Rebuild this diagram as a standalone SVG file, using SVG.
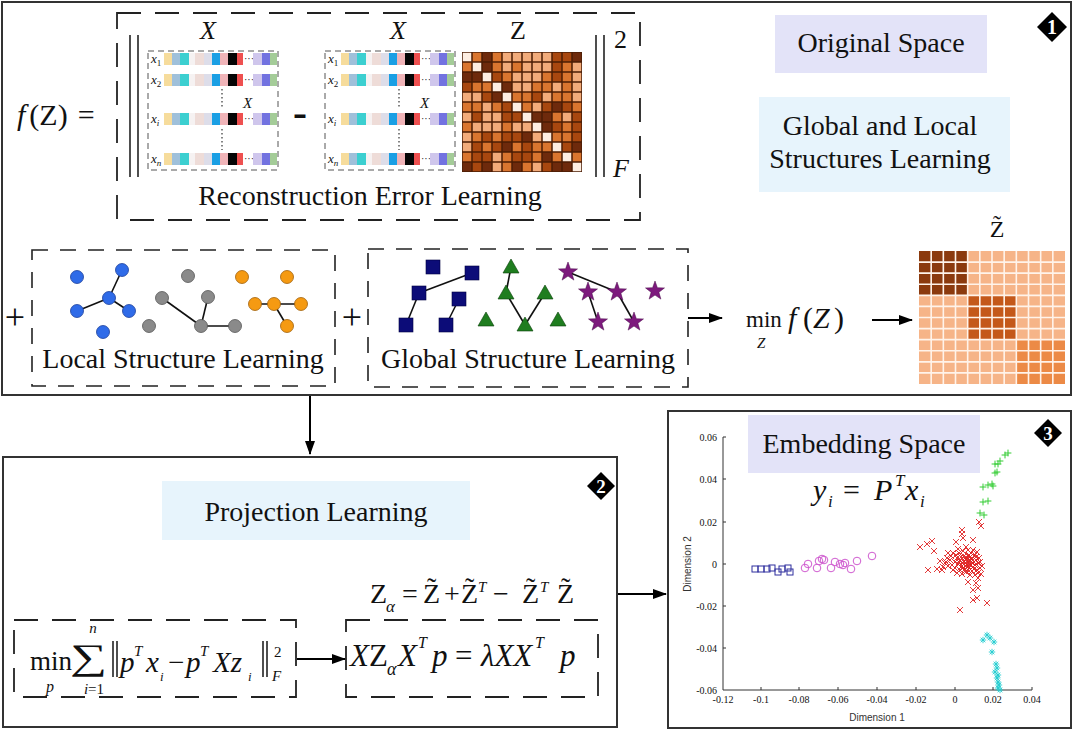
<svg xmlns="http://www.w3.org/2000/svg" width="1074" height="730" viewBox="0 0 1074 730">
<style>
text{font-family:"Liberation Serif","Times New Roman","DejaVu Serif",serif;fill:#111}
.it{font-style:italic}
.lbl{font-size:28px}
.box{fill:none;stroke:#333;stroke-width:2}
.dashA{fill:none;stroke:#222;stroke-width:1.8;stroke-dasharray:24 14}
.dashB{fill:none;stroke:#222;stroke-width:1.6;stroke-dasharray:16 12}
.dashM{fill:none;stroke:#555;stroke-width:1;stroke-dasharray:6 4}
.conn{stroke:#000;stroke-width:2;fill:none}
.edge{stroke:#111;stroke-width:1.6}
.bar{stroke:#222;stroke-width:1.6}
.tick{font-family:"Liberation Sans",Arial,sans-serif;font-size:10px;fill:#333}
.ax{stroke:#333;stroke-width:1;fill:none}
.za{fill:#6e2a0c}.zb{fill:#a8470f}.zc{fill:#d9752f}.zd{fill:#f2ab7a}.ze{fill:#fdeee2}
</style>
<defs>
<marker id="ah" viewBox="0 0 14 10" refX="13" refY="5" markerWidth="14" markerHeight="10" markerUnits="userSpaceOnUse" orient="auto"><path d="M0,0L14,5L0,10z" fill="#000"/></marker>
<rect id="za" class="za" width="8.5" height="8.5"/>
<rect id="zb" class="zb" width="8.5" height="8.5"/>
<rect id="zc" class="zc" width="8.5" height="8.5"/>
<rect id="zd" class="zd" width="8.5" height="8.5"/>
<rect id="ze" class="ze" width="8.5" height="8.5"/>
<path id="mx" d="M-3,-3L3,3M-3,3L3,-3" stroke="#e02424" stroke-width="0.9" fill="none"/>
<path id="mp" d="M-3.4,0H3.4M0,-3.4V3.4" stroke="#33cc33" stroke-width="1" fill="none"/>
<path id="mst" d="M-3.2,0H3.2M0,-3.2V3.2M-2.3,-2.3L2.3,2.3M-2.3,2.3L2.3,-2.3" stroke="#22cdd0" stroke-width="0.9" fill="none"/>
<circle id="mo" r="3.8" stroke="#d05cd0" stroke-width="1" fill="none"/>
<rect id="msq" x="-3" y="-3" width="6" height="6" stroke="#2e2e9e" stroke-width="1" fill="none"/>
<g id="xrow">
<rect x="16" y="0" width="8" height="12" fill="#f6dc9c"/>
<rect x="24" y="0" width="8" height="12" fill="#9fc0da"/>
<rect x="32" y="0" width="9" height="12" fill="#3ccfd0"/>
<rect x="41" y="0" width="6" height="12" fill="#f6f2f2"/>
<rect x="47" y="0" width="9" height="12" fill="#eedcd8"/>
<rect x="56" y="0" width="8" height="12" fill="#dddde9"/>
<rect x="64" y="0" width="8" height="12" fill="#1a9fe4"/>
<rect x="72" y="0" width="8" height="12" fill="#f0b4b8"/>
<rect x="80" y="0" width="9" height="12" fill="#050505"/>
<rect x="89" y="0" width="6" height="12" fill="#ee5050"/>
<text x="96" y="9" font-size="10" fill="#444">···</text>
<rect x="105" y="0" width="9" height="12" fill="#cfc6ec"/>
<rect x="114" y="0" width="8" height="12" fill="#7272e0"/>
<rect x="122" y="0" width="7" height="12" fill="#a4cc98"/>
</g>
<g id="xmat">
<rect class="dashM" x="0" y="51" width="130" height="119"/>
<use href="#xrow" y="53"/>
<use href="#xrow" y="74"/>
<use href="#xrow" y="113"/>
<use href="#xrow" y="153"/>
<text x="3" y="63" font-size="13" class="it">x<tspan font-size="9" dy="3" font-style="normal">1</tspan></text>
<text x="3" y="84" font-size="13" class="it">x<tspan font-size="9" dy="3" font-style="normal">2</tspan></text>
<text x="3" y="123" font-size="13" class="it">x<tspan font-size="9" dy="3">i</tspan></text>
<text x="3" y="163" font-size="13" class="it">x<tspan font-size="9" dy="3">n</tspan></text>
<path d="M74,89V109M74,129V150" stroke="#333" stroke-width="1.2" stroke-dasharray="1.5 2.5"/>
<text x="95" y="108" font-size="15" class="it">X</text>
</g>
</defs>

<!-- Box 1 -->
<g id="box1">
<rect class="box" x="2" y="2" width="1069" height="393"/>
<g id="badge1"><path d="M1052,12L1067,27L1052,42L1037,27z" fill="#000"/><text x="1052" y="34" font-size="20" font-weight="bold" text-anchor="middle" style="fill:#fff">1</text></g>
</g>

<g id="fz">
<text x="17" y="125" font-size="30"><tspan class="it">f</tspan><tspan dx="4">(Z)</tspan><tspan dx="10">=</tspan></text>
</g>

<g id="reconstruction">
<rect class="dashA" x="117" y="13" width="523" height="207"/>
<line class="bar" x1="130" y1="35" x2="130" y2="177"/>
<line class="bar" x1="138" y1="35" x2="138" y2="177"/>
<line class="bar" x1="596" y1="35" x2="596" y2="177"/>
<line class="bar" x1="604" y1="35" x2="604" y2="177"/>
<text x="208" y="39" font-size="26" class="it" text-anchor="middle">X</text>
<text x="398" y="39" font-size="26" class="it" text-anchor="middle">X</text>
<text x="518" y="39" font-size="26" text-anchor="middle">Z</text>
<use href="#xmat" x="148"/>
<use href="#xmat" x="325"/>
<text x="300" y="126" font-size="42" font-weight="bold" text-anchor="middle">-</text>
<text x="614" y="48" font-size="26">2</text>
<text x="613" y="177" font-size="26" class="it">F</text>
<text x="370" y="205" class="lbl" text-anchor="middle">Reconstruction Error Learning</text>
<g id="zmat">
<rect x="462" y="52" width="120" height="120" fill="#4a1c05"/>
<g transform="translate(462.75,52.75)"><use href="#ze" x="0"/><use href="#zc" x="10"/><use href="#za" x="20"/><use href="#zc" x="30"/><use href="#zd" x="40"/><use href="#zd" x="50"/><use href="#zd" x="60"/><use href="#zd" x="70"/><use href="#zd" x="80"/><use href="#zb" x="90"/><use href="#zb" x="100"/><use href="#za" x="110"/></g>
<g transform="translate(462.75,62.75)"><use href="#zc" x="0"/><use href="#ze" x="10"/><use href="#za" x="20"/><use href="#zc" x="30"/><use href="#zd" x="40"/><use href="#zc" x="50"/><use href="#zd" x="60"/><use href="#zd" x="70"/><use href="#zd" x="80"/><use href="#zb" x="90"/><use href="#zc" x="100"/><use href="#zd" x="110"/></g>
<g transform="translate(462.75,72.75)"><use href="#za" x="0"/><use href="#za" x="10"/><use href="#ze" x="20"/><use href="#zb" x="30"/><use href="#zc" x="40"/><use href="#zd" x="50"/><use href="#zd" x="60"/><use href="#zd" x="70"/><use href="#zc" x="80"/><use href="#zb" x="90"/><use href="#zc" x="100"/><use href="#zd" x="110"/></g>
<g transform="translate(462.75,82.75)"><use href="#zb" x="0"/><use href="#zc" x="10"/><use href="#zc" x="20"/><use href="#ze" x="30"/><use href="#za" x="40"/><use href="#zd" x="50"/><use href="#zd" x="60"/><use href="#zc" x="70"/><use href="#zc" x="80"/><use href="#zd" x="90"/><use href="#zc" x="100"/><use href="#zd" x="110"/></g>
<g transform="translate(462.75,92.75)"><use href="#zd" x="0"/><use href="#zd" x="10"/><use href="#zb" x="20"/><use href="#za" x="30"/><use href="#ze" x="40"/><use href="#zc" x="50"/><use href="#zc" x="60"/><use href="#zb" x="70"/><use href="#zd" x="80"/><use href="#zc" x="90"/><use href="#zc" x="100"/><use href="#zd" x="110"/></g>
<g transform="translate(462.75,102.75)"><use href="#zc" x="0"/><use href="#zc" x="10"/><use href="#zd" x="20"/><use href="#zc" x="30"/><use href="#zb" x="40"/><use href="#ze" x="50"/><use href="#zc" x="60"/><use href="#zd" x="70"/><use href="#zb" x="80"/><use href="#za" x="90"/><use href="#zb" x="100"/><use href="#zc" x="110"/></g>
<g transform="translate(462.75,112.75)"><use href="#zd" x="0"/><use href="#zb" x="10"/><use href="#zd" x="20"/><use href="#zd" x="30"/><use href="#zb" x="40"/><use href="#zb" x="50"/><use href="#ze" x="60"/><use href="#za" x="70"/><use href="#za" x="80"/><use href="#zc" x="90"/><use href="#zd" x="100"/><use href="#zb" x="110"/></g>
<g transform="translate(462.75,122.75)"><use href="#zc" x="0"/><use href="#zd" x="10"/><use href="#zd" x="20"/><use href="#zd" x="30"/><use href="#zc" x="40"/><use href="#zd" x="50"/><use href="#zd" x="60"/><use href="#ze" x="70"/><use href="#za" x="80"/><use href="#zb" x="90"/><use href="#zc" x="100"/><use href="#zb" x="110"/></g>
<g transform="translate(462.75,132.75)"><use href="#zd" x="0"/><use href="#zc" x="10"/><use href="#zb" x="20"/><use href="#zc" x="30"/><use href="#zb" x="40"/><use href="#zb" x="50"/><use href="#za" x="60"/><use href="#zd" x="70"/><use href="#ze" x="80"/><use href="#zc" x="90"/><use href="#zc" x="100"/><use href="#zb" x="110"/></g>
<g transform="translate(462.75,142.75)"><use href="#zd" x="0"/><use href="#zb" x="10"/><use href="#zc" x="20"/><use href="#zb" x="30"/><use href="#za" x="40"/><use href="#zc" x="50"/><use href="#zb" x="60"/><use href="#zc" x="70"/><use href="#zc" x="80"/><use href="#ze" x="90"/><use href="#zb" x="100"/><use href="#za" x="110"/></g>
<g transform="translate(462.75,152.75)"><use href="#zc" x="0"/><use href="#zb" x="10"/><use href="#zb" x="20"/><use href="#zd" x="30"/><use href="#zc" x="40"/><use href="#zb" x="50"/><use href="#zb" x="60"/><use href="#zc" x="70"/><use href="#za" x="80"/><use href="#zc" x="90"/><use href="#ze" x="100"/><use href="#zc" x="110"/></g>
<g transform="translate(462.75,162.75)"><use href="#za" x="0"/><use href="#zb" x="10"/><use href="#za" x="20"/><use href="#zd" x="30"/><use href="#zc" x="40"/><use href="#za" x="50"/><use href="#zc" x="60"/><use href="#zd" x="70"/><use href="#zb" x="80"/><use href="#za" x="90"/><use href="#za" x="100"/><use href="#ze" x="110"/></g>
</g>
</g>

<g id="originalSpace">
<rect x="775" y="15" width="212" height="58" fill="#e3e3f8"/>
<text x="881" y="52" class="lbl" text-anchor="middle">Original Space</text>
</g>
<g id="globalLocal">
<rect x="759" y="97" width="251" height="95" fill="#e7f4fc"/>
<text x="880" y="135" class="lbl" text-anchor="middle">Global and Local</text>
<text x="880" y="168" class="lbl" text-anchor="middle">Structures Learning</text>
</g>

<text x="15" y="329" font-size="36" text-anchor="middle">+</text>
<g id="localStructure">
<rect class="dashB" x="32" y="250" width="303" height="136"/>
<g class="edge">
<line x1="122" y1="270" x2="109" y2="298"/><line x1="109" y1="298" x2="77" y2="311"/><line x1="109" y1="298" x2="129" y2="311"/>
<line x1="162" y1="298" x2="201" y2="326"/><line x1="208" y1="297" x2="201" y2="326"/><line x1="201" y1="326" x2="235" y2="326"/>
<line x1="255" y1="304" x2="301" y2="304"/><line x1="274" y1="304" x2="287" y2="326"/>
</g>
<g fill="#2f6be8" stroke="#1a3f9a" stroke-width="0.8">
<circle cx="77" cy="277" r="6.5"/><circle cx="122" cy="270" r="6.5"/><circle cx="109" cy="298" r="6.5"/><circle cx="77" cy="311" r="6.5"/><circle cx="129" cy="311" r="6.5"/><circle cx="103" cy="332" r="6.5"/>
</g>
<g fill="#8a8a8a" stroke="#555" stroke-width="0.8">
<circle cx="188" cy="276" r="6.5"/><circle cx="162" cy="298" r="6.5"/><circle cx="208" cy="297" r="6.5"/><circle cx="149" cy="326" r="6.5"/><circle cx="201" cy="326" r="6.5"/><circle cx="235" cy="326" r="6.5"/>
</g>
<g fill="#f59a12" stroke="#a0600a" stroke-width="0.8">
<circle cx="242" cy="277" r="6.5"/><circle cx="287" cy="277" r="6.5"/><circle cx="255" cy="304" r="6.5"/><circle cx="274" cy="304" r="6.5"/><circle cx="301" cy="304" r="6.5"/><circle cx="287" cy="326" r="6.5"/>
</g>
<text x="183" y="368" class="lbl" text-anchor="middle">Local Structure Learning</text>
</g>

<text x="352" y="329" font-size="36" text-anchor="middle">+</text>
<g id="globalStructure">
<rect class="dashB" x="368" y="249" width="320" height="138"/>
<g class="edge">
<line x1="419" y1="293" x2="472" y2="273"/><line x1="419" y1="293" x2="406" y2="325"/><line x1="459" y1="299" x2="446" y2="325"/>
<line x1="511" y1="267" x2="506" y2="293"/><line x1="506" y1="293" x2="525" y2="325"/><line x1="525" y1="325" x2="545" y2="293"/>
<line x1="568" y1="272" x2="617" y2="292"/><line x1="617" y1="292" x2="634" y2="322"/><line x1="588" y1="292" x2="598" y2="322"/>
</g>
<g fill="#0c0c78" stroke="#000040" stroke-width="0.6">
<rect x="426" y="260" width="14" height="14"/><rect x="465" y="266" width="14" height="14"/><rect x="412" y="286" width="14" height="14"/><rect x="452" y="292" width="14" height="14"/><rect x="399" y="318" width="14" height="14"/><rect x="439" y="318" width="14" height="14"/>
</g>
<g fill="#1f7d1f" stroke="#0a400a" stroke-width="0.6">
<path d="M511,259L519,273H503z"/><path d="M506,285L514,299H498z"/><path d="M545,285L553,299H537z"/><path d="M486,312L494,326H478z"/><path d="M525,317L533,331H517z"/><path d="M558,312L566,326H550z"/>
</g>
<g fill="#7d1a7d" stroke="#4a0a4a" stroke-width="0.5">
<path d="M568,262L570.4,268.7L577.5,268.9L571.9,273.3L573.9,280.1L568,276.1L562.1,280.1L564.1,273.3L558.5,268.9L565.6,268.7z"/>
<path d="M588,282L590.4,288.7L597.5,288.9L591.9,293.3L593.9,300.1L588,296.1L582.1,300.1L584.1,293.3L578.5,288.9L585.6,288.7z"/>
<path d="M617,282L619.4,288.7L626.5,288.9L620.9,293.3L622.9,300.1L617,296.1L611.1,300.1L613.1,293.3L607.5,288.9L614.6,288.7z"/>
<path d="M655,281L657.4,287.7L664.5,287.9L658.9,292.3L660.9,299.1L655,295.1L649.1,299.1L651.1,292.3L645.5,287.9L652.6,287.7z"/>
<path d="M598,312L600.4,318.7L607.5,318.9L601.9,323.3L603.9,330.1L598,326.1L592.1,330.1L594.1,323.3L588.5,318.9L595.6,318.7z"/>
<path d="M634,312L636.4,318.7L643.5,318.9L637.9,323.3L639.9,330.1L634,326.1L628.1,330.1L630.1,323.3L624.5,318.9L631.6,318.7z"/>
</g>
<text x="528" y="368" class="lbl" text-anchor="middle">Global Structure Learning</text>
</g>

<g id="minfz">
<text x="746" y="327" font-size="23">min</text>
<text x="757" y="348" font-size="15" class="it">Z</text>
<text x="788" y="328" font-size="30" class="it">f</text>
<text x="803" y="328" font-size="30">(</text>
<text x="813" y="328" font-size="30" class="it">Z</text>
<text x="834" y="328" font-size="30">)</text>
</g>

<g id="ztilde">
<text x="997" y="237" font-size="24" text-anchor="middle">Z̃</text>
<rect x="919" y="251" width="146" height="133" fill="#f6b488"/>
<rect x="919" y="251" width="48.67" height="44.33" fill="#8b3a0e"/>
<rect x="967.67" y="295.33" width="48.67" height="44.33" fill="#c4581a"/>
<rect x="1016.33" y="339.67" width="48.67" height="44.33" fill="#ec8a46"/>
<path d="M931.17,251V384M943.33,251V384M955.5,251V384M967.67,251V384M979.83,251V384M992,251V384M1004.17,251V384M1016.33,251V384M1028.5,251V384M1040.67,251V384M1052.83,251V384M919,262.08H1065M919,273.17H1065M919,284.25H1065M919,295.33H1065M919,306.42H1065M919,317.5H1065M919,328.58H1065M919,339.67H1065M919,350.75H1065M919,361.83H1065M919,372.92H1065" stroke="#fff3ea" stroke-width="1.6"/>
</g>

<!-- Box 2 -->
<g id="box2">
<rect class="box" x="3" y="457" width="614" height="270"/>
<g id="badge2"><path d="M601,472L615,486L601,500L587,486z" fill="#000"/><text x="601" y="493" font-size="19" font-weight="bold" text-anchor="middle" style="fill:#fff">2</text></g>
</g>
<g id="projection">
<rect x="162" y="481" width="308" height="59" fill="#e7f4fc"/>
<text x="316" y="521" class="lbl" text-anchor="middle">Projection Learning</text>
</g>
<g id="objective">
<rect class="dashA" x="14" y="620" width="282" height="77"/>
<text x="30" y="670" font-size="27">min</text>
<text x="46" y="692" font-size="16" class="it">p</text>
<text transform="translate(70,669) scale(1.3,0.9)" font-size="40">∑</text>
<text x="93" y="633" font-size="15" class="it" text-anchor="middle">n</text>
<text x="94" y="694" font-size="15" text-anchor="middle"><tspan class="it">i</tspan>=1</text>
<line class="bar" x1="113" y1="641" x2="113" y2="677" stroke-width="1.2"/>
<line class="bar" x1="117" y1="641" x2="117" y2="677" stroke-width="1.2"/>
<text x="120" y="672" font-size="29" class="it">p</text>
<text x="134" y="656" font-size="15" class="it">T</text>
<text x="146" y="672" font-size="29" class="it">x</text>
<text x="160" y="681" font-size="13" class="it">i</text>
<text x="168" y="672" font-size="29">−</text>
<text x="186" y="672" font-size="29" class="it">p</text>
<text x="200" y="656" font-size="15" class="it">T</text>
<text x="213" y="672" font-size="29" class="it">Xz</text>
<text x="248" y="681" font-size="13" class="it">i</text>
<line class="bar" x1="263" y1="641" x2="263" y2="677" stroke-width="1.2"/>
<line class="bar" x1="267" y1="641" x2="267" y2="677" stroke-width="1.2"/>
<text x="274" y="657" font-size="15">2</text>
<text x="272" y="681" font-size="15" class="it">F</text>
</g>
<g id="zalpha">
<text x="370" y="603" font-size="28">Z</text>
<text x="386" y="612" font-size="17" class="it">α</text>
<text x="402" y="603" font-size="28">=</text>
<text x="423" y="603" font-size="28">Z̃</text>
<text x="444" y="603" font-size="28">+</text>
<text x="461" y="603" font-size="28">Z̃</text>
<text x="478" y="592" font-size="15" class="it">T</text>
<text x="493" y="603" font-size="28">−</text>
<text x="522" y="603" font-size="28">Z̃</text>
<text x="540" y="592" font-size="15" class="it">T</text>
<text x="557" y="603" font-size="28">Z̃</text>
</g>
<g id="eigen">
<rect class="dashA" x="346" y="620" width="252" height="77"/>
<text x="350" y="666" font-size="31"><tspan class="it">X</tspan>Z</text>
<text x="387" y="675" font-size="18" class="it">α</text>
<text x="398" y="666" font-size="31" class="it">X</text>
<text x="418" y="648" font-size="16" class="it">T</text>
<text x="432" y="666" font-size="31" class="it">p</text>
<text x="455" y="666" font-size="31">=</text>
<text x="481" y="666" font-size="31" class="it">λXX</text>
<text x="535" y="648" font-size="16" class="it">T</text>
<text x="560" y="666" font-size="31" class="it">p</text>
</g>

<!-- Box 3 -->
<g id="box3">
<rect class="box" x="668" y="411" width="403" height="317"/>
<g id="badge3"><path d="M1048,419L1062,433L1048,447L1034,433z" fill="#000"/><text x="1048" y="440" font-size="19" font-weight="bold" text-anchor="middle" style="fill:#fff">3</text></g>
</g>
<g id="plot">
<path class="ax" d="M723,437V690H1032"/>
<path class="ax" d="M761,690v-3M799,690v-3M838,690v-3M877,690v-3M916,690v-3M955,690v-3M993,690v-3M1032,690v-3M723,648h3M723,606h3M723,564h3M723,522h3M723,479h3M723,437h3"/>
<g class="tick" text-anchor="middle">
<text x="723" y="703">-0.12</text><text x="761" y="703">-0.1</text><text x="799" y="703">-0.08</text><text x="838" y="703">-0.06</text><text x="877" y="703">-0.04</text><text x="916" y="703">-0.02</text><text x="955" y="703">0</text><text x="993" y="703">0.02</text><text x="1032" y="703">0.04</text>
</g>
<g class="tick" text-anchor="end">
<text x="717" y="441">0.06</text><text x="717" y="483">0.04</text><text x="717" y="526">0.02</text><text x="717" y="568">0</text><text x="717" y="610">-0.02</text><text x="717" y="652">-0.04</text><text x="717" y="694">-0.06</text>
</g>
<text x="877" y="721" class="tick" text-anchor="middle">Dimension 1</text>
<text class="tick" text-anchor="middle" transform="translate(691,564) rotate(-90)">Dimension 2</text>
<g id="sq"><use href="#msq" x="755" y="569"/><use href="#msq" x="761" y="569"/><use href="#msq" x="767" y="569"/><use href="#msq" x="772" y="568"/><use href="#msq" x="778" y="572"/><use href="#msq" x="782" y="569"/><use href="#msq" x="788" y="568"/><use href="#msq" x="790" y="572"/></g>
<g id="ci"><use href="#mo" x="805" y="568"/><use href="#mo" x="808" y="564"/><use href="#mo" x="817" y="568"/><use href="#mo" x="819" y="561"/><use href="#mo" x="822" y="559"/><use href="#mo" x="824" y="560"/><use href="#mo" x="831" y="568"/><use href="#mo" x="835" y="562"/><use href="#mo" x="840" y="564"/><use href="#mo" x="843" y="565"/><use href="#mo" x="845" y="563"/><use href="#mo" x="851" y="569"/><use href="#mo" x="857" y="561"/><use href="#mo" x="872" y="556"/></g>
<g id="rx">
<use href="#mx" x="920" y="547"/><use href="#mx" x="927" y="544"/><use href="#mx" x="932" y="541"/><use href="#mx" x="934" y="551"/><use href="#mx" x="928" y="570"/><use href="#mx" x="942" y="570"/><use href="#mx" x="946" y="562"/><use href="#mx" x="948" y="553"/><use href="#mx" x="956" y="542"/><use href="#mx" x="962" y="530"/><use href="#mx" x="962" y="534"/><use href="#mx" x="963" y="538"/><use href="#mx" x="968" y="556"/><use href="#mx" x="973" y="540"/><use href="#mx" x="979" y="522"/><use href="#mx" x="981" y="526"/><use href="#mx" x="968" y="582"/><use href="#mx" x="973" y="590"/><use href="#mx" x="978" y="588"/><use href="#mx" x="977" y="598"/><use href="#mx" x="973" y="600"/><use href="#mx" x="987" y="603"/><use href="#mx" x="960" y="610"/><use href="#mx" x="978" y="578"/><use href="#mx" x="978" y="573"/>
<use href="#mx" x="960" y="560"/><use href="#mx" x="962" y="563"/><use href="#mx" x="965" y="558"/><use href="#mx" x="968" y="561"/><use href="#mx" x="970" y="565"/><use href="#mx" x="972" y="559"/><use href="#mx" x="966" y="566"/><use href="#mx" x="963" y="568"/><use href="#mx" x="969" y="555"/><use href="#mx" x="974" y="562"/><use href="#mx" x="958" y="564"/><use href="#mx" x="961" y="557"/><use href="#mx" x="964" y="561"/><use href="#mx" x="967" y="564"/><use href="#mx" x="971" y="562"/><use href="#mx" x="973" y="567"/><use href="#mx" x="976" y="560"/><use href="#mx" x="957" y="558"/><use href="#mx" x="955" y="562"/><use href="#mx" x="952" y="565"/><use href="#mx" x="950" y="560"/><use href="#mx" x="948" y="566"/><use href="#mx" x="945" y="563"/><use href="#mx" x="959" y="553"/><use href="#mx" x="963" y="551"/><use href="#mx" x="968" y="550"/><use href="#mx" x="971" y="553"/><use href="#mx" x="975" y="555"/><use href="#mx" x="978" y="563"/><use href="#mx" x="980" y="568"/><use href="#mx" x="977" y="570"/><use href="#mx" x="972" y="571"/><use href="#mx" x="966" y="572"/><use href="#mx" x="960" y="570"/><use href="#mx" x="955" y="568"/><use href="#mx" x="943" y="567"/><use href="#mx" x="940" y="561"/><use href="#mx" x="937" y="569"/><use href="#mx" x="967" y="558"/><use href="#mx" x="969" y="568"/><use href="#mx" x="962" y="566"/><use href="#mx" x="975" y="565"/><use href="#mx" x="979" y="558"/><use href="#mx" x="956" y="555"/><use href="#mx" x="951" y="556"/><use href="#mx" x="965" y="563"/><use href="#mx" x="970" y="560"/><use href="#mx" x="968" y="566"/>
<use href="#mx" x="964" y="556"/><use href="#mx" x="966" y="560"/><use href="#mx" x="970" y="557"/><use href="#mx" x="973" y="563"/><use href="#mx" x="959" y="562"/><use href="#mx" x="961" y="567"/><use href="#mx" x="965" y="569"/><use href="#mx" x="969" y="571"/><use href="#mx" x="974" y="569"/><use href="#mx" x="976" y="557"/><use href="#mx" x="953" y="570"/><use href="#mx" x="957" y="573"/><use href="#mx" x="962" y="574"/><use href="#mx" x="970" y="575"/><use href="#mx" x="975" y="575"/><use href="#mx" x="980" y="562"/><use href="#mx" x="982" y="566"/><use href="#mx" x="958" y="549"/><use href="#mx" x="966" y="547"/><use href="#mx" x="973" y="550"/><use href="#mx" x="977" y="552"/><use href="#mx" x="953" y="553"/><use href="#mx" x="947" y="558"/><use href="#mx" x="981" y="574"/><use href="#mx" x="976" y="583"/>
</g>
<g id="gp"><use href="#mp" x="980" y="513"/><use href="#mp" x="984" y="515"/><use href="#mp" x="983" y="502"/><use href="#mp" x="988" y="501"/><use href="#mp" x="983" y="487"/><use href="#mp" x="988" y="485"/><use href="#mp" x="992" y="484"/><use href="#mp" x="993" y="486"/><use href="#mp" x="995" y="473"/><use href="#mp" x="997" y="472"/><use href="#mp" x="995" y="464"/><use href="#mp" x="998" y="464"/><use href="#mp" x="1000" y="461"/><use href="#mp" x="1005" y="455"/><use href="#mp" x="1008" y="453"/></g>
<g id="cs"><use href="#mst" x="983" y="640"/><use href="#mst" x="987" y="635"/><use href="#mst" x="990" y="638"/><use href="#mst" x="994" y="642"/><use href="#mst" x="992" y="652"/><use href="#mst" x="996" y="664"/><use href="#mst" x="997" y="668"/><use href="#mst" x="995" y="672"/><use href="#mst" x="998" y="675"/><use href="#mst" x="997" y="678"/><use href="#mst" x="998" y="682"/><use href="#mst" x="999" y="685"/><use href="#mst" x="998" y="688"/><use href="#mst" x="1000" y="690"/></g>
</g>
<g id="embedding">
<rect x="748" y="415" width="232" height="58" fill="#e3e3f8"/>
<text x="864" y="453" class="lbl" text-anchor="middle">Embedding Space</text>
<text x="813" y="500" font-size="30" class="it">y</text>
<text x="828" y="507" font-size="17" class="it">i</text>
<text x="843" y="500" font-size="30">=</text>
<text x="874" y="500" font-size="30" class="it">P</text>
<text x="895" y="486" font-size="17" class="it">T</text>
<text x="905" y="500" font-size="30" class="it">x</text>
<text x="920" y="507" font-size="17" class="it">i</text>
</g>

<g id="connectors">
<line class="conn" x1="310" y1="396" x2="310" y2="454" marker-end="url(#ah)"/>
<line class="conn" x1="618" y1="594" x2="666" y2="594" marker-end="url(#ah)"/>
<line class="conn" x1="688" y1="318" x2="722" y2="318" marker-end="url(#ah)"/>
<line class="conn" x1="872" y1="320" x2="912" y2="320" marker-end="url(#ah)"/>
<line class="conn" x1="297" y1="659" x2="345" y2="659" marker-end="url(#ah)"/>
</g>
</svg>
